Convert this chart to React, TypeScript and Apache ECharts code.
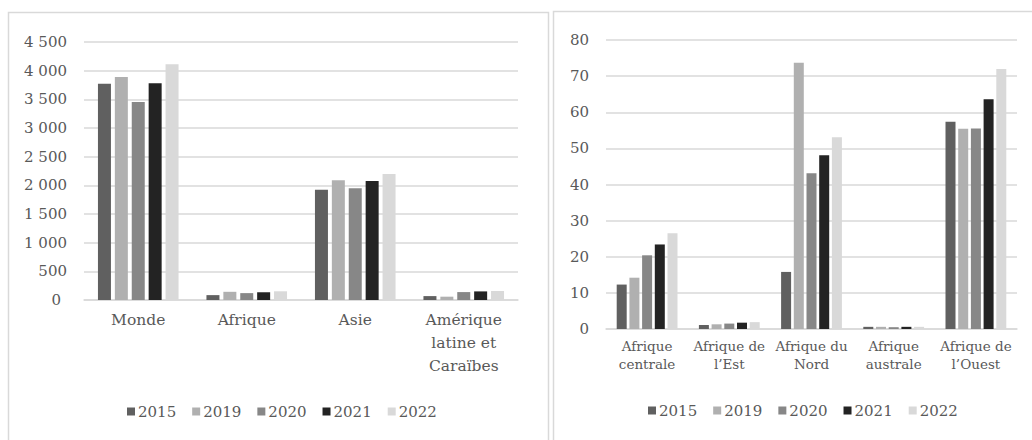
import React, { useEffect, useRef } from "react";
import * as echarts from "echarts";

const years = ["2015", "2019", "2020", "2021", "2022"];
const colors = ["#606060", "#b0b0b0", "#878787", "#232323", "#d9d9d9"];

const worldCategories = ["Monde", "Afrique", "Asie", "Amérique\nlatine et\nCaraïbes"];
const world2015 = [3773, 85, 1924, 68];
const world2019 = [3890, 143, 2087, 58];
const world2020 = [3453, 120, 1948, 138];
const world2021 = [3779, 135, 2076, 150];
const world2022 = [4110, 152, 2198, 157];

const africaCategories = [
  "Afrique\ncentrale",
  "Afrique de\nl’Est",
  "Afrique du\nNord",
  "Afrique\naustrale",
  "Afrique de\nl’Ouest",
];
const africa2015 = [12.3, 1.1, 15.8, 0.6, 57.4];
const africa2019 = [14.2, 1.3, 73.7, 0.6, 55.4];
const africa2020 = [20.4, 1.5, 43.1, 0.5, 55.5];
const africa2021 = [23.4, 1.75, 48.1, 0.6, 63.6];
const africa2022 = [26.5, 1.9, 53.1, 0.6, 72.0];

const worldSeries = [world2015, world2019, world2020, world2021, world2022];
const africaSeries = [africa2015, africa2019, africa2020, africa2021, africa2022];

const FONT = "DejaVu Serif";
const TEXT = "#595959";
const GRIDLINE = "#d9d9d9";

function fmtThousands(v: number): string {
  return String(v).replace(/\B(?=(\d{3})+(?!\d))/g, " ");
}

export default function App() {
  const ref = useRef<HTMLDivElement>(null);

  useEffect(() => {
    if (!ref.current) return;
    const chart = echarts.init(ref.current, undefined, { renderer: "svg" });

    const series: any[] = [];
    years.forEach((y, i) => {
      series.push({
        name: y,
        type: "bar",
        xAxisIndex: 0,
        yAxisIndex: 0,
        data: worldSeries[i],
        barWidth: 13,
        barGap: "30%",
        itemStyle: { color: colors[i] },
      });
    });
    years.forEach((y, i) => {
      series.push({
        name: y,
        type: "bar",
        xAxisIndex: 1,
        yAxisIndex: 1,
        data: africaSeries[i],
        barWidth: 10,
        barGap: "27%",
        itemStyle: { color: colors[i] },
      });
    });

    const legendBase = {
      orient: "horizontal",
      icon: "rect",
      itemWidth: 8,
      itemHeight: 8,
      itemGap: 16,
      padding: 0,
      selectedMode: false,
      textStyle: { fontFamily: FONT, fontSize: 15, color: TEXT, padding: [0, 0, 0, -2] },
      data: years,
    };

    chart.setOption({
      animation: false,
      backgroundColor: "#ffffff",
      textStyle: { fontFamily: FONT },
      graphic: [
        {
          type: "rect",
          z: -10,
          shape: { x: 8.5, y: 12.5, width: 540, height: 500 },
          style: { fill: "none", stroke: GRIDLINE, lineWidth: 1.5 },
        },
        {
          type: "rect",
          z: -10,
          shape: { x: 553.5, y: 11.5, width: 600, height: 500 },
          style: { fill: "none", stroke: GRIDLINE, lineWidth: 1.5 },
        },
      ],
      legend: [
        { ...legendBase, left: 127, top: 404 },
        { ...legendBase, left: 648, top: 403 },
      ],
      grid: [
        { left: 84, right: 1032 - 518, top: 42, bottom: 440 - 300, containLabel: false },
        { left: 606, right: 1032 - 1017, top: 40, bottom: 440 - 329, containLabel: false },
      ],
      xAxis: [
        {
          type: "category",
          gridIndex: 0,
          data: worldCategories,
          axisTick: { show: false },
          axisLine: { lineStyle: { color: GRIDLINE, width: 1.5 } },
          axisLabel: {
            color: TEXT,
            fontFamily: FONT,
            fontSize: 15.5,
            lineHeight: 23,
            margin: 8,
            interval: 0,
          },
        },
        {
          type: "category",
          gridIndex: 1,
          data: africaCategories,
          axisTick: { show: false },
          axisLine: { lineStyle: { color: GRIDLINE, width: 1.5 } },
          axisLabel: {
            color: TEXT,
            fontFamily: FONT,
            fontSize: 13.5,
            lineHeight: 18,
            margin: 8,
            interval: 0,
          },
        },
      ],
      yAxis: [
        {
          type: "value",
          gridIndex: 0,
          min: 0,
          max: 4500,
          interval: 500,
          axisLine: { show: false },
          axisTick: { show: false },
          splitLine: { lineStyle: { color: GRIDLINE, width: 1.5 } },
          axisLabel: {
            color: TEXT,
            fontFamily: FONT,
            fontSize: 15,
            margin: 17,
            formatter: (v: number) => (v === 0 ? "{z|0}" : fmtThousands(v)),
            rich: {
              z: { fontFamily: FONT, fontSize: 15, color: TEXT, padding: [0, 6, 0, 0] },
            },
          },
        },
        {
          type: "value",
          gridIndex: 1,
          min: 0,
          max: 80,
          interval: 10,
          axisLine: { show: false },
          axisTick: { show: false },
          splitLine: { lineStyle: { color: GRIDLINE, width: 1.5 } },
          axisLabel: {
            color: TEXT,
            fontFamily: FONT,
            fontSize: 15,
            margin: 17,
          },
        },
      ],
      series,
    });

    return () => {
      chart.dispose();
    };
  }, []);

  return (
    <div
      ref={ref}
      style={{ position: "fixed", left: 0, top: 0, width: 1032, height: 440, background: "#fff" }}
    />
  );
}
